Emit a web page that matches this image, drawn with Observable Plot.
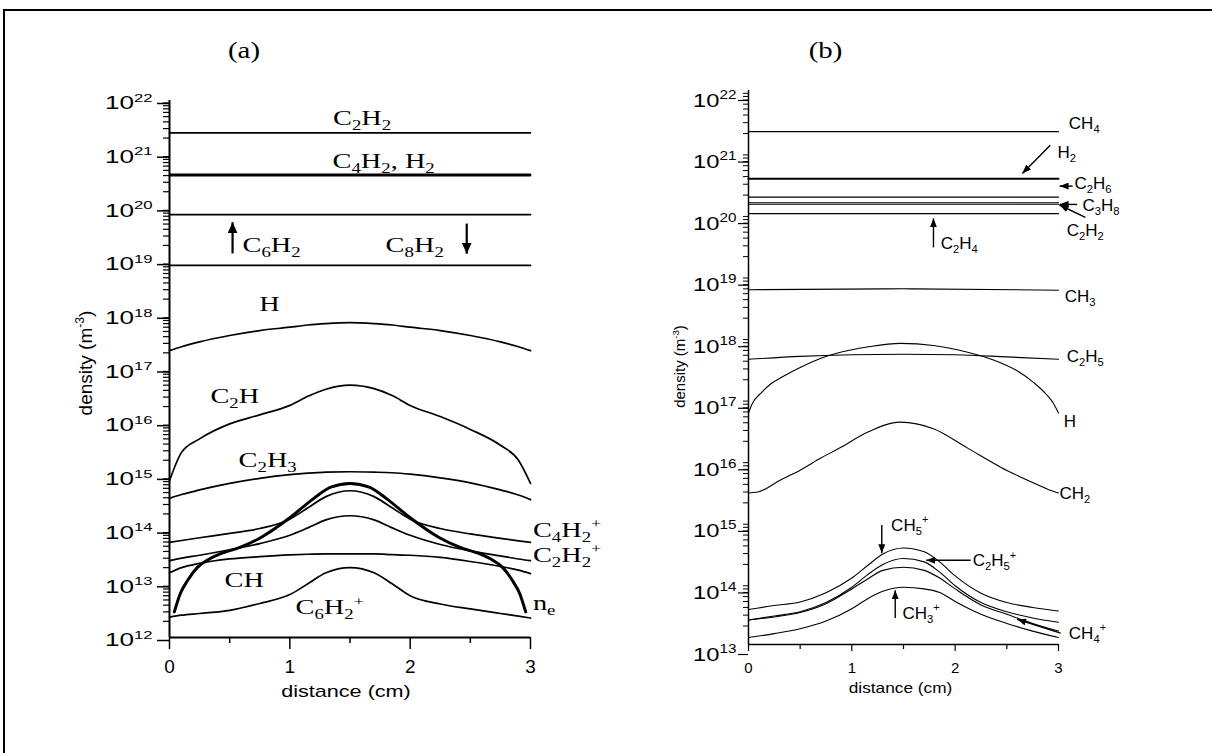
<!DOCTYPE html>
<html><head><meta charset="utf-8">
<script src="https://cdn.jsdelivr.net/npm/d3@7"></script>
<script src="https://cdn.jsdelivr.net/npm/@observablehq/plot@0.6"></script>
<style>
html,body{margin:0;padding:0;background:#fff}
body{width:1212px;height:753px;overflow:hidden;position:relative}
#frame{position:absolute;left:3px;top:9px;width:1230px;height:800px;border:2px solid #000;box-sizing:border-box}
#pa,#pb{position:absolute;top:0}
#pa{left:0}
#pb{left:600px}
</style></head>
<body>
<div id="frame"></div>
<div id="pa"></div>
<div id="pb"></div>
<script>
// ================= DATA: panel (a) C2H2 plasma =================
const DIST_A = [0, 0.1, 0.25, 0.5, 0.75, 1.0, 1.15, 1.3, 1.5, 1.7, 1.85, 2.0, 2.25, 2.5, 2.75, 2.9, 3.0];
const H_A     = [2.2e17, 2.6e17, 3.2e17, 4.2e17, 5.2e17, 6.0e17, 6.6e17, 7.0e17, 7.3e17, 7.0e17, 6.6e17, 6.0e17, 5.2e17, 4.2e17, 3.2e17, 2.6e17, 2.2e17];
const C2H_A   = [8.3e14, 2.8e15, 5.0e15, 9.5e15, 1.4e16, 2.1e16, 3.1e16, 4.2e16, 5.0e16, 4.3e16, 3.2e16, 2.1e16, 1.3e16, 7.5e15, 3.8e15, 2.0e15, 7.4e14];
const C2H3_A  = [3.9e14, 4.6e14, 5.6e14, 7.4e14, 9.2e14, 1.08e15, 1.15e15, 1.2e15, 1.22e15, 1.2e15, 1.17e15, 1.1e15, 9.4e14, 7.6e14, 5.6e14, 4.5e14, 3.7e14];
const C4H2P_A = [5.9e13, 6.4e13, 7.2e13, 8.7e13, 1.07e14, 1.6e14, 2.6e14, 4.2e14, 5.4e14, 4.2e14, 2.6e14, 1.6e14, 1.07e14, 8.5e13, 7.0e13, 6.3e13, 5.9e13];
const C2H2P_A = [2.7e13, 3.0e13, 3.4e13, 4.3e13, 5.6e13, 8.0e13, 1.1e14, 1.55e14, 1.85e14, 1.55e14, 1.1e14, 8.0e13, 5.4e13, 4.1e13, 3.3e13, 2.9e13, 2.7e13];
const CH_A    = [1.6e13, 2.0e13, 2.4e13, 2.9e13, 3.2e13, 3.45e13, 3.55e13, 3.6e13, 3.6e13, 3.6e13, 3.5e13, 3.4e13, 3.1e13, 2.6e13, 2.1e13, 1.8e13, 1.55e13];
const C6H2P_A = [2.4e12, 2.6e12, 2.8e12, 3.2e12, 4.3e12, 6.3e12, 1.0e13, 1.6e13, 2.0e13, 1.6e13, 1.0e13, 6.0e12, 4.2e12, 3.4e12, 2.8e12, 2.5e12, 2.3e12];
const DIST_NE = [0.04, 0.09, 0.15, 0.23, 0.32, 0.42, 0.59, 0.76, 1.0, 1.2, 1.34, 1.5, 1.66, 1.8, 2.0, 2.24, 2.41, 2.58, 2.68, 2.77, 2.85, 2.91, 2.96];
const NE_A    = [3e12, 6.6e12, 1.15e13, 2.0e13, 2.8e13, 3.6e13, 4.8e13, 7.3e13, 1.7e14, 3.9e14, 6.3e14, 7.4e14, 6.3e14, 3.9e14, 1.7e14, 7.3e13, 4.8e13, 3.6e13, 2.8e13, 2.0e13, 1.15e13, 6.6e12, 3e12];
const FLAT_DIST = [0, 3];
const C2H2_A = [2.5e21, 2.5e21];
const C4H2_A = [4.2e20, 4.2e20];
const H2_A   = [4.0e20, 4.0e20];
const C6H2_A = [7.5e19, 7.5e19];
const C8H2_A = [8.5e18, 8.5e18];

const TICKS_A = [1e12, 1e13, 1e14, 1e15, 1e16, 1e17, 1e18, 1e19, 1e20, 1e21, 1e22];
const XTICKS = [0, 1, 2, 3];
const XMINOR = [0.5, 1.5, 2.5];

// labels of panel (a): text, distance, density
const LABELS_A_START = [
  {t: "C_{4}H_{2}, H_{2}", d: 1.355, n: 7.5e20},
  {t: "C_{6}H_{2}", d: 0.607, n: 2.0e19},
  {t: "C_{8}H_{2}", d: 1.796, n: 2.0e19},
  {t: "C_{2}H", d: 0.34, n: 3.1e16},
  {t: "C_{2}H_{3}", d: 0.574, n: 1.98e15},
  {t: "CH", d: 0.457, n: 1.15e13},
  {t: "C_{6}H_{2}^{+}", d: 1.047, n: 3.6e12},
  {t: "C_{4}H_{2}^{+}", d: 3.02, n: 9.8e13},
  {t: "C_{2}H_{2}^{+}", d: 3.02, n: 3.4e13},
  {t: "n_{e}", d: 3.02, n: 4.3e12}
];
const LABELS_A_MID = [
  {t: "C_{2}H_{2}", d: 1.60, n: 4.6e21},
  {t: "H", d: 0.83, n: 1.6e18}
];
const ARROWS_A = [
  {d1: 0.524, n1: 1.42e19, d2: 0.524, n2: 5.4e19},
  {d1: 2.47, n1: 5.1e19, d2: 2.47, n2: 1.4e19}
];

// ================= DATA: panel (b) CH4 plasma =================
const CH4_B  = [2.15e21, 2.15e21];
const H2_B   = [3.7e20, 3.7e20];
const C2H6_B = [1.85e20, 1.85e20];
const C3H8_B = [1.5e20, 1.5e20];
const C2H2_B = [1.42e20, 1.42e20];
const C2H4_B = [1.0e20, 1.0e20];
const DIST_CH3 = [0, 1.5, 3];
const CH3_B  = [5.8e18, 6.0e18, 5.7e18];
const DIST_C2H5 = [0, 0.5, 1.0, 1.5, 2.0, 2.5, 3.0];
const C2H5_B = [4.3e17, 4.8e17, 5.1e17, 5.2e17, 5.1e17, 4.7e17, 4.3e17];
const DIST_HB = [0, 0.03, 0.13, 0.22, 0.32, 0.5, 0.7, 0.89, 1.15, 1.47, 1.79, 2.12, 2.37, 2.6, 2.76, 2.89, 2.95, 3.0];
const H_B = [5.75e16, 7.8e16, 1.26e17, 1.74e17, 2.19e17, 3.16e17, 4.47e17, 5.6e17, 6.8e17, 7.8e17, 7.2e17, 5.6e17, 4.2e17, 2.8e17, 1.8e17, 1.12e17, 8.3e16, 5.75e16];
const DIST_CH2 = [0, 0.09, 0.31, 0.5, 0.7, 0.89, 1.15, 1.47, 1.79, 2.12, 2.44, 2.76, 2.9, 3.0];
const CH2_B = [2.9e15, 3.0e15, 4.7e15, 6.8e15, 1.07e16, 1.58e16, 2.8e16, 4.1e16, 3.2e16, 1.55e16, 7.6e15, 4.2e15, 3.3e15, 2.9e15];
const DIST_B = [0, 0.25, 0.5, 0.75, 1.0, 1.15, 1.3, 1.5, 1.7, 1.85, 2.0, 2.25, 2.5, 2.75, 3.0];
const CH5P_B  = [3.7e13, 4.3e13, 4.9e13, 6.9e13, 1.2e14, 1.9e14, 2.95e14, 3.7e14, 3.2e14, 2.2e14, 1.3e14, 6.8e13, 4.8e13, 4.0e13, 3.5e13];
const C2H5P_B = [2.5e13, 2.9e13, 3.4e13, 4.8e13, 8.5e13, 1.35e14, 2.0e14, 2.5e14, 2.2e14, 1.5e14, 9.0e13, 4.8e13, 3.4e13, 2.7e13, 2.3e13];
const CH4P_B  = [2.5e13, 2.8e13, 3.3e13, 4.6e13, 8.0e13, 1.15e14, 1.6e14, 1.8e14, 1.6e14, 1.2e14, 8.0e13, 4.4e13, 3.1e13, 2.2e13, 1.65e13];
const CH3P_B  = [1.3e13, 1.5e13, 1.8e13, 2.4e13, 3.8e13, 5.5e13, 7.3e13, 8.5e13, 8.0e13, 7.0e13, 5.0e13, 3.1e13, 2.2e13, 1.65e13, 1.3e13];

const TICKS_B = [1e13, 1e14, 1e15, 1e16, 1e17, 1e18, 1e19, 1e20, 1e21, 1e22];

const LABELS_B = [
  {t: "CH_{4}", d: 3.10, n: 2.86e21},
  {t: "H_{2}", d: 2.99, n: 1.0e21},
  {t: "C_{2}H_{6}", d: 3.155, n: 3.1e20},
  {t: "C_{3}H_{8}", d: 3.233, n: 1.36e20},
  {t: "C_{2}H_{2}", d: 3.08, n: 5.3e19},
  {t: "C_{2}H_{4}", d: 1.86, n: 3.28e19},
  {t: "CH_{3}", d: 3.06, n: 4.5e18},
  {t: "C_{2}H_{5}", d: 3.08, n: 4.8e17},
  {t: "H", d: 3.05, n: 4.2e16},
  {t: "CH_{2}", d: 3.01, n: 2.87e15},
  {t: "CH_{5}^{+}", d: 1.38, n: 8.7e14},
  {t: "C_{2}H_{5}^{+}", d: 2.17, n: 2.34e14},
  {t: "CH_{3}^{+}", d: 1.49, n: 3.24e13},
  {t: "CH_{4}^{+}", d: 3.10, n: 1.53e13}
];
const ARROWS_B = [
  {d1: 2.92, n1: 1.29e21, d2: 2.65, n2: 4.5e20},
  {d1: 3.137, n1: 2.8e20, d2: 3.01, n2: 2.8e20},
  {d1: 3.18, n1: 1.41e20, d2: 3.01, n2: 1.41e20},
  {d1: 3.26, n1: 8.7e19, d2: 3.01, n2: 1.38e20},
  {d1: 1.79, n1: 2.83e19, d2: 1.79, n2: 8.4e19},
  {d1: 1.29, n1: 8.7e14, d2: 1.29, n2: 3.05e14},
  {d1: 2.15, n1: 2.34e14, d2: 1.72, n2: 2.34e14},
  {d1: 1.42, n1: 2.7e13, d2: 1.42, n2: 7.6e13},
  {d1: 3.02, n1: 1.53e13, d2: 2.60, n2: 2.57e13}
];

// ================= helpers =================
const SANS = "'Liberation Sans', Arial, Helvetica, sans-serif";
const SERIF = "'Liberation Serif', 'Times New Roman', Times, serif";
const SVGNS = "http://www.w3.org/2000/svg";

function series(name, xs, ys) { return xs.map((x, i) => ({species: name, d: x, n: ys[i]})); }
function minorTicks(decades) {
  const out = [];
  for (let i = 0; i < decades.length - 1; i++) for (let k = 2; k <= 9; k++) out.push(decades[i] * k);
  return out;
}
const sup = v => `10^{${Math.round(Math.log10(v))}}`;

function head(len, wid) {
  return (color, context) => {
    const doc = (context && context.document) || document;
    const m = doc.createElementNS(SVGNS, "marker");
    m.setAttribute("viewBox", `${-len} ${-wid / 2} ${len} ${wid}`);
    m.setAttribute("markerWidth", len);
    m.setAttribute("markerHeight", wid);
    m.setAttribute("markerUnits", "userSpaceOnUse");
    m.setAttribute("orient", "auto");
    const p = doc.createElementNS(SVGNS, "path");
    p.setAttribute("d", `M${-len},${-wid / 2}L0,0L${-len},${wid / 2}Z`);
    p.setAttribute("fill", color === "currentColor" ? "#000" : color);
    p.setAttribute("stroke", "none");
    m.appendChild(p);
    return m;
  };
}

function rich(t) {
  const s = t.textContent;
  if (!/[_^]\{/.test(s)) return;
  const base = parseFloat(getComputedStyle(t).fontSize) || 16;
  t.textContent = "";
  const re = /([_^])\{([^}]*)\}|([^_^]+)/g;
  let shift = 0, m;
  while ((m = re.exec(s))) {
    const ts = document.createElementNS(SVGNS, "tspan");
    let target = 0, txt = m[3];
    if (m[1] === "_") { target = 0.24 * base; txt = m[2]; ts.setAttribute("font-size", (0.66 * base).toFixed(1)); }
    else if (m[1] === "^") { target = -0.42 * base; txt = m[2]; ts.setAttribute("font-size", (0.64 * base).toFixed(1)); }
    if (Math.abs(target - shift) > 1e-6) ts.setAttribute("dy", (target - shift).toFixed(2));
    shift = target;
    ts.textContent = txt;
    t.appendChild(ts);
  }
}

function finish(svg) {
  svg.querySelectorAll("text").forEach(t => { if (!t.querySelector("tspan")) rich(t); });
  svg.querySelectorAll("g[aria-description]").forEach(g => {
    const desc = g.getAttribute("aria-description") || "";
    if (!desc.startsWith("stretch:")) return;
    const f = +desc.slice(8);
    g.querySelectorAll("text").forEach(t => {
      const L = t.getComputedTextLength();
      if (L > 0) { t.setAttribute("textLength", (L * f).toFixed(1)); t.setAttribute("lengthAdjust", "spacingAndGlyphs"); }
    });
  });
}

// ================= panel (a) =================
const thinA = [
  ...series("C2H2", FLAT_DIST, C2H2_A),
  ...series("C4H2", FLAT_DIST, C4H2_A),
  ...series("H2", FLAT_DIST, H2_A),
  ...series("C6H2", FLAT_DIST, C6H2_A),
  ...series("C8H2", FLAT_DIST, C8H2_A),
  ...series("H", DIST_A, H_A),
  ...series("C2H", DIST_A, C2H_A),
  ...series("C2H3", DIST_A, C2H3_A),
  ...series("C4H2+", DIST_A, C4H2P_A),
  ...series("C2H2+", DIST_A, C2H2P_A),
  ...series("CH", DIST_A, CH_A),
  ...series("C6H2+", DIST_A, C6H2P_A)
];
const neA = series("ne", DIST_NE, NE_A);

const plotA = Plot.plot({
  width: 600, height: 720,
  marginLeft: 169, marginRight: 70, marginTop: 100, marginBottom: 83,
  x: {domain: [0, 3]},
  y: {type: "log", domain: [1e12, 1e22]},
  style: {overflow: "visible", background: "transparent", color: "#000"},
  marks: [
    Plot.line(thinA, {x: "d", y: "n", z: "species", stroke: "#000", strokeWidth: 1.7, curve: "monotone-x"}),
    Plot.line(neA, {x: "d", y: "n", stroke: "#000", strokeWidth: 3, curve: "monotone-x"}),
    Plot.axisY(TICKS_A, {anchor: "left", tickSize: 12, tickPadding: 5, strokeWidth: 1.5, tickFormat: sup, fontSize: 18, fontFamily: SANS, dy: 3, label: null, ariaDescription: "stretch:1.45"}),
    Plot.axisY(minorTicks(TICKS_A), {anchor: "left", tickSize: 6, strokeWidth: 1.2, tickFormat: () => "", label: null}),
    Plot.axisX(XTICKS, {anchor: "bottom", tickSize: 12, tickPadding: 10, strokeWidth: 1.5, tickFormat: d => String(d), fontSize: 19, fontFamily: SANS, label: null}),
    Plot.axisX(XMINOR, {anchor: "bottom", tickSize: 6, strokeWidth: 1.5, tickFormat: () => "", label: null}),
    Plot.ruleX([0], {stroke: "#000", strokeWidth: 2}),
    Plot.ruleY([1e12], {stroke: "#000", strokeWidth: 2}),
    Plot.text(LABELS_A_START, {x: "d", y: "n", text: "t", textAnchor: "start", fontFamily: SERIF, fontSize: 21, fill: "#000", ariaDescription: "stretch:1.35"}),
    Plot.text(LABELS_A_MID, {x: "d", y: "n", text: "t", textAnchor: "middle", fontFamily: SERIF, fontSize: 21, fill: "#000", ariaDescription: "stretch:1.35"}),
    Plot.link(ARROWS_A, {x1: "d1", y1: "n1", x2: "d2", y2: "n2", stroke: "#000", strokeWidth: 2.2, markerEnd: head(11, 10)}),
    Plot.text(["(a)"], {frameAnchor: "top", textAnchor: "middle", lineAnchor: "middle", dx: -106, dy: -50, fontFamily: SERIF, fontSize: 24, fill: "#000", ariaDescription: "stretch:1.2"}),
    Plot.text(["density (m^{-3})"], {frameAnchor: "left", textAnchor: "middle", lineAnchor: "middle", dx: -84, dy: -6, rotate: -90, fontFamily: SANS, fontSize: 19, fill: "#000"}),
    Plot.text(["distance (cm)"], {frameAnchor: "bottom", textAnchor: "middle", lineAnchor: "middle", dx: -4, dy: 54, fontFamily: SANS, fontSize: 17, fill: "#000", ariaDescription: "stretch:1.27"})
  ]
});
document.getElementById("pa").appendChild(plotA);
finish(plotA);

// ================= panel (b) =================
const thinB = [
  ...series("CH4", FLAT_DIST, CH4_B),
  ...series("C2H6", FLAT_DIST, C2H6_B),
  ...series("C3H8", FLAT_DIST, C3H8_B),
  ...series("C2H2", FLAT_DIST, C2H2_B),
  ...series("C2H4", FLAT_DIST, C2H4_B),
  ...series("CH3", DIST_CH3, CH3_B),
  ...series("C2H5", DIST_C2H5, C2H5_B),
  ...series("H", DIST_HB, H_B),
  ...series("CH2", DIST_CH2, CH2_B),
  ...series("CH5+", DIST_B, CH5P_B),
  ...series("C2H5+", DIST_B, C2H5P_B),
  ...series("CH4+", DIST_B, CH4P_B),
  ...series("CH3+", DIST_B, CH3P_B)
];
const h2B = series("H2", FLAT_DIST, H2_B);

const plotB = Plot.plot({
  width: 612, height: 720,
  marginLeft: 148, marginRight: 154, marginTop: 90, marginBottom: 76,
  x: {domain: [0, 3]},
  y: {type: "log", domain: [1e13, 1e22]},
  style: {overflow: "visible", background: "transparent", color: "#000"},
  marks: [
    Plot.line(thinB, {x: "d", y: "n", z: "species", stroke: "#000", strokeWidth: 1.1, curve: "monotone-x"}),
    Plot.line(h2B, {x: "d", y: "n", stroke: "#000", strokeWidth: 2, curve: "monotone-x"}),
    Plot.axisY(TICKS_B, {anchor: "left", tickSize: 10, tickPadding: 2, strokeWidth: 1.2, tickFormat: sup, fontSize: 19, fontFamily: SANS, dy: 10, label: null, ariaDescription: "stretch:1.25"}),
    Plot.axisY(minorTicks(TICKS_B), {anchor: "left", tickSize: 5, strokeWidth: 1, tickFormat: () => "", label: null}),
    Plot.axisX(XTICKS, {anchor: "bottom", tickSize: 7, tickPadding: 11, strokeWidth: 1.2, tickFormat: d => String(d), fontSize: 15, fontFamily: SANS, label: null}),
    Plot.axisX(XMINOR, {anchor: "bottom", tickSize: 5, strokeWidth: 1.2, tickFormat: () => "", label: null}),
    Plot.ruleX([0], {stroke: "#000", strokeWidth: 1.5}),
    Plot.ruleY([1e13], {stroke: "#000", strokeWidth: 1.5}),
    Plot.text(LABELS_B, {x: "d", y: "n", text: "t", textAnchor: "start", fontFamily: SANS, fontSize: 17, fill: "#000"}),
    Plot.link(ARROWS_B, {x1: "d1", y1: "n1", x2: "d2", y2: "n2", stroke: "#000", strokeWidth: 1.4, markerEnd: head(9, 7)}),
    Plot.text(["(b)"], {frameAnchor: "top", textAnchor: "middle", lineAnchor: "middle", dx: -78, dy: -40, fontFamily: SERIF, fontSize: 24, fill: "#000", ariaDescription: "stretch:1.2"}),
    Plot.text(["density (m^{-3})"], {frameAnchor: "left", textAnchor: "middle", lineAnchor: "middle", dx: -68, dy: -1, rotate: -90, fontFamily: SANS, fontSize: 15, fill: "#000"}),
    Plot.text(["distance (cm)"], {frameAnchor: "bottom", textAnchor: "middle", lineAnchor: "middle", dx: -3, dy: 44, fontFamily: SANS, fontSize: 15, fill: "#000", ariaDescription: "stretch:1.15"})
  ]
});
document.getElementById("pb").appendChild(plotB);
finish(plotB);
</script>
</body></html>
